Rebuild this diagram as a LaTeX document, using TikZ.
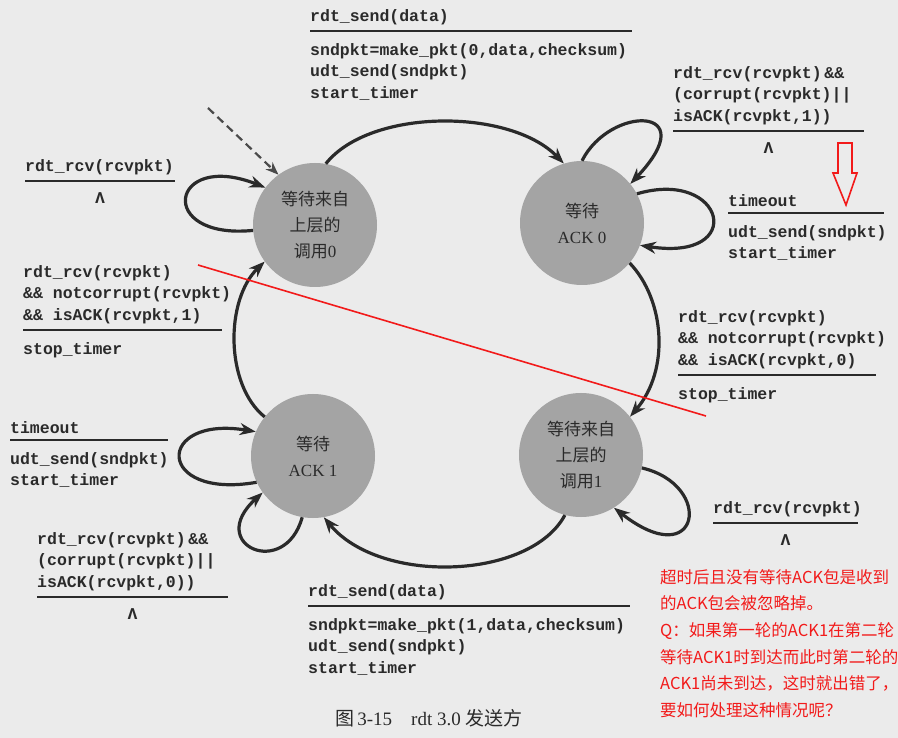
\documentclass[tikz,border=0pt]{standalone}
\usepackage{fontspec}
\setmainfont{Liberation Serif}
\setmonofont{Liberation Mono}
\newfontfamily\cjk{Noto Sans CJK SC}
\usetikzlibrary{arrows.meta}
\definecolor{scanBg}{HTML}{EBEBEB}
\definecolor{ink}{HTML}{2A2A2A}
\definecolor{stateGray}{HTML}{A4A4A4}
\definecolor{noteRed}{HTML}{F21A1A}
\tikzset{
    stateNode/.style={circle, fill=stateGray, minimum size=124pt, inner sep=0pt, align=center, text=ink, font=\fontsize{17}{26}\selectfont},
    fsmEdge/.style={-{Stealth[length=16pt, width=12pt]}, line width=3.2pt, draw=ink},
    initEdge/.style={-{Stealth[length=13pt, width=10pt]}, line width=2.2pt, draw=ink!85, dash pattern=on 8pt off 5pt},
    fsmText/.style={font=\ttfamily\bfseries\fontsize{16.5}{21.5}\selectfont, text=ink, align=left, inner xsep=0pt, inner ysep=4pt},
    ruleLine/.style={line width=1.9pt, draw=ink},
    noteText/.style={font=\cjk\fontsize{16.5}{26.7}\selectfont, text=noteRed, align=left, inner sep=0pt, anchor=north west},
    noteLine/.style={draw=noteRed, line width=1.6pt},
}
\newcommand{\drawAction}[6]{
    % event above the rule, action below it
    \node[fsmText, anchor=south west] (#1-ev) at (#2, #3-2) {#5};
    \draw[ruleLine] (#2, #3) -- ++(#4, 0);
    \node[fsmText, anchor=north west] (#1-act) at (#2, #3+8) {#6};
}
\newcommand{\drawLambda}[5]{
    % event with an empty action
    \node[fsmText, anchor=south west] (#1-ev) at (#2, #3-2) {#5};
    \draw[ruleLine] (#2, #3) -- ++(#4, 0);
    \node[fsmText] (#1-act) at (#2+#4/2, #3+17) {Λ};
}

\begin{document}
\begin{tikzpicture}[x=1pt, y=-1pt]
    \fill[scanBg] (0,0) rectangle (898,738);
    \useasboundingbox (0,0) rectangle (898,738);

    % states
    \node[stateNode] (waitCall0) at (315,225) {{\cjk 等待来自}\\{\cjk 上层的}\\{\cjk 调用}0};
    \node[stateNode] (waitAck0) at (582,223) {{\cjk 等待}\\ACK 0};
    \node[stateNode] (waitAck1) at (313,456) {{\cjk 等待}\\ACK 1};
    \node[stateNode] (waitCall1) at (581,455) {{\cjk 等待来自}\\{\cjk 上层的}\\{\cjk 调用}1};

    % initial arrow
    \coordinate (initStart) at (208,108);
    \draw[initEdge] (initStart) -- (waitCall0.126);

    % transitions
    \draw[fsmEdge] (waitCall0.80) .. controls (370,108) and (510,108) .. (waitAck0.107);
    \draw[fsmEdge] (waitAck0.90) .. controls (610,105) and (705,105) .. (waitAck0.39);
    \draw[fsmEdge] (waitAck0.28) .. controls (725,168) and (748,262) .. (waitAck0.-21);
    \draw[fsmEdge] (waitAck0.-40) .. controls (665,300) and (670,370) .. (waitCall1.38);
    \draw[fsmEdge] (waitCall1.-12) .. controls (715,485) and (700,575) .. (waitCall1.-58);
    \draw[fsmEdge] (waitCall1.-105) .. controls (530,580) and (380,585) .. (waitAck1.-80);
    \draw[fsmEdge] (waitAck1.205) .. controls (155,500) and (155,415) .. (waitAck1.157);
    \draw[fsmEdge] (waitAck1.-100) .. controls (285,580) and (205,545) .. (waitAck1.216);
    \draw[fsmEdge] (waitAck1.141) .. controls (225,385) and (225,300) .. (waitCall0.216);
    \draw[fsmEdge] (waitCall0.185) .. controls (155,240) and (170,150) .. (waitCall0.143);

    % labels
    \drawAction{topSend}{310}{31}{322}{rdt\_send(data)}{sndpkt=make\_pkt(0,data,checksum)\\udt\_send(sndpkt)\\start\_timer}
    \drawLambda{ackZeroBad}{673}{131}{191}{rdt\_rcv(rcvpkt)\,\&\&\\(corrupt(rcvpkt)||\\isACK(rcvpkt,1))}
    \drawAction{ackZeroTimeout}{728}{213}{156}{timeout}{udt\_send(sndpkt)\\start\_timer}
    \drawAction{ackZeroOk}{678}{375}{198}{rdt\_rcv(rcvpkt)\\\&\& notcorrupt(rcvpkt)\\\&\& isACK(rcvpkt,0)}{stop\_timer}
    \drawLambda{callOneRcv}{713}{523}{145}{rdt\_rcv(rcvpkt)}
    \drawAction{bottomSend}{308}{606}{322}{rdt\_send(data)}{sndpkt=make\_pkt(1,data,checksum)\\udt\_send(sndpkt)\\start\_timer}
    \drawAction{ackOneTimeout}{10}{440}{158}{timeout}{udt\_send(sndpkt)\\start\_timer}
    \drawLambda{ackOneBad}{37}{597}{191}{rdt\_rcv(rcvpkt)\,\&\&\\(corrupt(rcvpkt)||\\isACK(rcvpkt,0))}
    \drawAction{ackOneOk}{23}{330}{199}{rdt\_rcv(rcvpkt)\\\&\& notcorrupt(rcvpkt)\\\&\& isACK(rcvpkt,1)}{stop\_timer}
    \drawLambda{callZeroRcv}{25}{181}{150}{rdt\_rcv(rcvpkt)}

    % caption
    \node[font=\fontsize{19}{21}\selectfont, text=ink, anchor=base west, inner sep=0pt] (caption) at (335,725) {{\cjk 图}\,3-15\quad rdt 3.0 {\cjk 发送方}};

    % red notes
    \coordinate (strikeA) at (198,265);
    \coordinate (strikeB) at (706,416);
    \draw[noteLine] (strikeA) -- (strikeB);
    \draw[noteLine] (838,143) -- (852,143) -- (852,173) -- (857,173) -- (846,205) -- (833,173) -- (838,173) -- cycle;
    \node[noteText] (note) at (660,569) {超时后且没有等待ACK包是收到\\的ACK包会被忽略掉。\\Q：如果第一轮的ACK1在第二轮\\等待ACK1时到达而此时第二轮的\\ACK1尚未到达，这时就出错了，\\要如何处理这种情况呢？};
\end{tikzpicture}
\end{document}
